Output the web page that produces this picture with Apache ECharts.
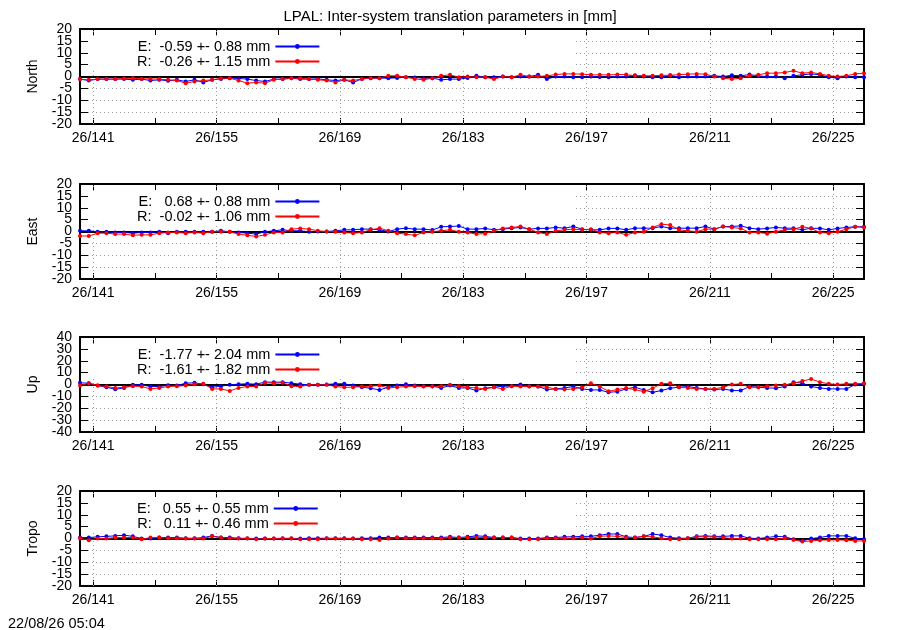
<!DOCTYPE html>
<html>
<head>
<meta charset="utf-8">
<title>LPAL inter-system translation parameters</title>
<script src="https://cdn.jsdelivr.net/npm/echarts@6.0.0/dist/echarts.min.js"></script>
<style>
  html, body { margin: 0; padding: 0; background: #fff; }
  #chart { width: 900px; height: 630px; }
</style>
</head>
<body>
<div id="chart"></div>
<script>
// day of year 2026, one solution per day (plotted at noon)
var doy = [139,140,141,142,143,144,145,146,147,148,149,150,151,152,153,154,155,156,157,158,
  159,160,161,162,163,164,165,166,167,168,169,170,171,172,173,174,175,176,177,178,
  179,180,181,182,183,184,185,186,187,188,189,190,191,192,193,194,195,196,197,198,
  199,200,201,202,203,204,205,206,207,208,209,210,211,212,213,214,215,216,217,218,
  219,220,221,222,223,224,225,226,227,228];
var majorTicks = [141, 155, 169, 183, 197, 211, 225];
var minorTicks = [148, 162, 176, 190, 204, 218];
var yTicks20 = [-20, -15, -10, -5, 0, 5, 10, 15, 20];
var yTicks40 = [-40, -30, -20, -10, 0, 10, 20, 30, 40];

var panelNames = ["North", "East", "Up", "Tropo"];
var legendE = ["E:  -0.59 +- 0.88 mm", "E:   0.68 +- 0.88 mm", "E:  -1.77 +- 2.04 mm", "E:   0.55 +- 0.55 mm"];
var legendR = ["R:  -0.26 +- 1.15 mm", "R:  -0.02 +- 1.06 mm", "R:  -1.61 +- 1.82 mm", "R:   0.11 +- 0.46 mm"];

// mm
var northE = [-1.1,-1.7,-1.1,-1.1,-1.1,-1.1,-1.4,-1.1,-1.7,-1.4,-1.8,-1.4,-2.1,-1.4,-2.5,-1.4,-1.0,-0.7,-0.8,-1.1,
  -1.7,-2.1,-1.1,-1.1,-0.7,-1.1,-1.1,-1.0,-1.4,-1.7,-1.4,
  -2.5,-1.0,-0.7,-0.7,-0.7,-0.6,-0.3,-0.4,-0.7,-0.7,-1.4,-1.1,-1.1,-0.6,0.3,-0.3,-0.3,0,-0.3,0,
  0,0.7,-1.1,0,0,-0.3,-0.3,0,-0.2,
  -0.3,0,0,0.5,0,-0.3,-0.3,0.5,-0.3,0,0,0,0.3,0,0.5,0.3,0.8,0.2,0,0,
  -0.7,0.3,0.7,1.1,0.7,-0.3,-0.7,0,-0.3,-0.3];
var northR = [-1.1,-1.4,-1.1,-1.1,-1.1,-0.8,-0.7,-1.0,-1.0,-1.1,-1.4,-1.7,-2.8,-2.1,-1.7,-1.4,-0.8,-0.7,-1.7,-2.8,
  -2.5,-2.8,-1.4,-1.1,-0.7,-0.7,-1.1,-1.4,-1.7,-2.5,-1.4,
  -1.7,-1.0,-0.7,-0.7,0.3,0.3,-0.3,-1.0,-1.4,-0.7,0.3,0.7,-0.3,0,-0.3,-0.3,-1.1,0,-0.3,0.7,
  0,0,0.3,0.8,1.1,1.1,1.0,0.7,0.7,
  0.7,0.8,0.8,0.3,0.3,0.3,0.5,0.5,0.8,1.0,1.1,1.0,0,-0.7,-1.1,-0.7,0.3,0.7,1.4,1.4,
  1.7,2.4,1.4,1.7,1.1,0.3,0,0.3,1.1,1.4];
var eastE = [0.3,0.3,-0.1,-0.1,-0.4,-0.4,-0.7,-0.4,-0.4,-0.1,-0.7,-0.1,-0.1,-0.1,-0.1,-0.1,0.3,-0.1,-0.4,-0.7,
  -1.1,-0.1,0.3,0.7,0.3,0.3,-0.1,0,0,0.3,0.7,0.7,1.0,1.0,0.7,0,1.0,1.4,1.0,1.0,0.6,
  2.0,2.1,2.3,1.0,1.0,1.3,0.7,1.0,1.4,1.7,1.0,1.3,1.3,1.7,1.4,2.1,1.0,0.7,0.7,1.3,
  1.3,0.7,1.4,1.4,1.4,2.1,1.4,1.4,1.4,1.4,2.1,1.0,2.1,2.1,2.4,1.4,1.0,1.3,1.7,1.4,
  1.4,0.7,1.4,1.3,0.7,1.3,1.7,2.0,2.0];
var eastR = [-1.9,-1.9,-0.7,-0.7,-1.1,-1.1,-1.6,-1.4,-1.4,-0.7,-0.4,-0.4,-0.7,-0.4,-0.7,-0.1,-0.1,-0.1,-1.1,-1.6,
  -2.1,-1.4,-0.4,-0.4,1.0,1.3,1.0,0.3,0,-0.1,-0.4,-0.7,-0.4,0.7,1.4,0.3,-0.7,-1.1,-1.6,-0.4,-0.1,
  0.3,0.7,-0.1,-0.4,-1.1,-0.9,0.3,1.3,1.7,2.1,1.0,-0.4,-1.1,0.3,0.7,1.0,0.7,1.0,-0.4,-0.7,
  -0.4,-1.4,-0.4,-0.1,1.7,3.1,2.7,0.7,0.3,-0.1,1.0,1.0,2.1,1.7,1.3,-0.4,-0.4,-0.9,-0.1,0.7,
  1.0,2.0,1.3,-0.4,-0.7,-0.1,1.0,2.0,1.7];
var upE = [1.4,1.1,-0.9,-2.3,-4.0,-2.9,-0.3,-0.3,-1.7,-1.7,-0.6,-0.9,1.1,1.4,0.3,-2.3,-1.4,-0.3,0.3,0.6,
  0.3,2.0,2.0,2.0,1.1,0.3,-0.3,-0.3,0,0.6,0.6,-0.9,-2.3,-3.1,-4.6,-2.3,-0.9,0.3,-0.9,-1.4,-1.4,
  -2.9,-0.9,-2.9,-2.9,-5.1,-3.1,-2.3,-1.4,-1.4,0,-1.4,-1.7,-4.3,-3.7,-2.9,-1.7,-3.7,-4.6,-4.6,-6.6,
  -6.0,-3.7,-2.3,-4.6,-6.6,-5.1,-3.1,-2.3,-1.7,-2.9,-3.7,-4.3,-3.7,-5.1,-5.1,-1.7,-2.3,-2.9,-3.1,-1.7,
  2.0,1.1,-1.7,-2.9,-3.7,-3.7,-3.7,0,0.6];
var upR = [-0.9,1.1,-0.9,-1.7,-2.9,-2.3,-1.4,-1.7,-3.7,-2.9,-1.7,-1.4,-0.9,0.3,0.6,-3.7,-3.7,-5.4,-2.9,-1.7,
  -1.7,1.4,1.1,1.4,-1.4,-1.7,-0.3,-0.3,-0.3,-1.7,-2.3,-2.3,-1.7,-1.4,-0.9,-2.9,-2.3,-1.7,-1.4,-1.7,-1.7,
  -1.4,-0.3,-1.4,-2.3,-2.9,-3.7,-2.3,-3.7,-1.4,-1.7,-1.7,-1.7,-2.3,-3.7,-4.3,-3.7,-2.3,1.1,-1.7,-5.7,
  -4.3,-2.9,-4.3,-6.0,-3.1,0.6,1.1,-2.3,-2.9,-3.7,-3.7,-3.7,-2.3,0,0.6,-2.3,-2.3,-1.4,-0.9,-0.3,
  1.1,2.9,4.6,2.0,0.6,0,0.6,0.6,1.1];
var tropoE = [0.4,0.4,0.7,0.9,1.1,1.4,0.9,0,0,0.4,0.4,0.4,0.1,0.1,0.4,1.1,0.4,0.4,0.1,0,
  0,0,0,0,0,0,0.1,0.1,0.1,0.1,0.1,0,0.1,0.1,0.4,0.4,0.4,0.4,0.4,0.4,
  0.4,0.4,0.7,0.4,0.7,
  1.1,0.9,0.4,0.4,0.4,0,0,0,0.4,0.4,0.7,0.7,0.9,0.9,1.4,1.9,1.9,0.7,0.4,0.9,
  1.9,1.4,0.4,0.1,0.1,0.9,1.1,0.9,0.9,1.1,1.1,0.1,0,0.4,0.9,0.7,-0.3,-1.0,0,0.4,
  1.1,1.1,1.1,0.1,-0.3];
var tropoR = [0.1,-0.7,0,0,0.4,0.4,0.4,-0.3,0.4,0.4,0.1,0.1,0,0,0,0.9,0.4,0.1,0,0.1,
  -0.3,0,0,0.1,0.1,-0.3,-0.3,-0.3,0,0,0,0,-0.3,-0.3,-0.6,0,0.4,0.1,0.1,0.1,
  0.1,0,0.4,0.4,0.4,
  0.4,0.4,0.4,0.4,0.4,-0.3,-0.3,-0.3,0.1,0.1,0.1,0.1,0.4,0,0.9,1.1,0.9,0.4,0.4,0.9,
  0.7,0.1,-0.3,-0.3,0.1,0.7,0.7,0.7,0.4,0,0,-0.3,-0.3,-0.3,-0.3,0.1,-0.6,-1.3,-1.0,-0.7,
  -0.6,-0.6,-0.7,-1.0,-1.0];

var seriesE = [northE, eastE, upE, tropoE];
var seriesR = [northR, eastR, upR, tropoR];
var yTicks = [yTicks20, yTicks20, yTicks40, yTicks20];
var panelTop = [29, 184, 337, 491];
var panelH = 95;

var FONT = "'Liberation Sans', Arial, Helvetica, sans-serif";
var grey = { color: "#a0a0a0", width: 1, type: [1, 3] };

function pairs(vals) {
  return vals.map(function(v, i) { return [doy[i] + 0.5, v]; });
}

var grids = [], xAxes = [], yAxes = [], series = [], legends = [], graphics = [];

panelNames.forEach(function(name, p) {
  grids.push({ left: 80, right: 36, top: panelTop[p], height: panelH });

  var xBase = { gridIndex: p, type: "value", min: 139.5, max: 228.5 };
  // bottom: frame and labelled ticks
  xAxes.push(Object.assign({}, xBase, {
    position: "bottom",
    axisLine: { show: true, onZero: false, lineStyle: { color: "#000", width: 2 } },
    axisTick: { show: true, inside: true, length: 6, customValues: majorTicks, lineStyle: { color: "#000" } },
    axisLabel: { show: true, customValues: majorTicks, margin: 7, color: "#000", fontSize: 14, fontFamily: FONT,
      formatter: function(v) { return "26/" + v; } },
    splitLine: { show: false }
  }));
  // top: frame and ticks
  xAxes.push(Object.assign({}, xBase, {
    position: "top",
    axisLine: { show: true, onZero: false, lineStyle: { color: "#000", width: 2 } },
    axisTick: { show: true, inside: true, length: 6, customValues: majorTicks.concat(minorTicks), lineStyle: { color: "#000" } },
    axisLabel: { show: false },
    splitLine: { show: false }
  }));
  // bottom: in-between ticks
  xAxes.push(Object.assign({}, xBase, {
    position: "bottom",
    axisLine: { show: false, onZero: false },
    axisTick: { show: true, inside: true, length: 6, customValues: minorTicks, lineStyle: { color: "#000" } },
    axisLabel: { show: false },
    splitLine: { show: false }
  }));

  var yt = yTicks[p];
  var yStep = yt[1] - yt[0];
  var yBase = { gridIndex: p, type: "value", min: yt[0], max: yt[yt.length - 1], interval: yStep };
  var labelStyle = { show: true, interval: 0, margin: 8, color: "#000", fontSize: 14, fontFamily: FONT,
    showMinLabel: true, showMaxLabel: true, hideOverlap: false };
  // left: frame, ticks, grid and every other label
  yAxes.push(Object.assign({}, yBase, {
    position: "left",
    name: name, nameLocation: "middle", nameGap: 40, nameRotate: 90,
    nameTextStyle: { color: "#000", fontSize: 14, fontFamily: FONT },
    axisLine: { show: true, onZero: false, lineStyle: { color: "#000", width: 2 } },
    axisTick: { show: true, inside: true, length: 8, lineStyle: { color: "#000" } },
    axisLabel: Object.assign({}, labelStyle, { customValues: yt.filter(function(v, i) { return i % 2 === 0; }) }),
    splitLine: { show: true, lineStyle: grey }
  }));
  // right: frame and ticks
  yAxes.push(Object.assign({}, yBase, {
    position: "right",
    axisLine: { show: true, onZero: false, lineStyle: { color: "#000", width: 2 } },
    axisTick: { show: true, inside: true, length: 8, lineStyle: { color: "#000" } },
    axisLabel: { show: false },
    splitLine: { show: false }
  }));
  // left again: the remaining labels (kept apart so none get dropped as overlapping)
  yAxes.push(Object.assign({}, yBase, {
    position: "left", offset: 0,
    axisLine: { show: false, onZero: false },
    axisTick: { show: false },
    axisLabel: Object.assign({}, labelStyle, { customValues: yt.filter(function(v, i) { return i % 2 === 1; }) }),
    splitLine: { show: false }
  }));

  series.push({
    name: legendE[p], type: "line", xAxisIndex: p * 3, yAxisIndex: p * 3,
    data: pairs(seriesE[p]), symbol: "circle", symbolSize: 4,
    itemStyle: { color: "#0000ff" }, lineStyle: { color: "#0000ff", width: 1 },
    // zero axis
    markLine: { silent: true, z: 1.5, symbol: ["none", "none"], label: { show: false },
      lineStyle: { color: "#000", width: 2, type: "solid" }, data: [{ yAxis: 0 }] }
  });
  series.push({
    name: legendR[p], type: "line", xAxisIndex: p * 3, yAxisIndex: p * 3,
    data: pairs(seriesR[p]), symbol: "circle", symbolSize: 4,
    itemStyle: { color: "#ff0000" }, lineStyle: { color: "#ff0000", width: 1 },
    // vertical grid at the labelled ticks
    markLine: { silent: true, z: 0.5, symbol: ["none", "none"], label: { show: false },
      lineStyle: grey, data: majorTicks.map(function(v) { return { xAxis: v }; }) }
  });

  legends.push({
    data: [legendE[p], legendR[p]], orient: "vertical", align: "right",
    left: 137, top: panelTop[p] + 10, padding: 0, itemGap: 0,
    itemWidth: 44, itemHeight: 6, selectedMode: false,
    textStyle: { color: "#000", fontSize: 14.5, fontFamily: FONT, lineHeight: 14.5 }
  });

  // opaque key box hides the grid behind it
  graphics.push({ type: "rect", left: 88, top: panelTop[p] + 7, z: 1,
    shape: { width: 485, height: 35 }, style: { fill: "#fff" } });
});

graphics.push({ type: "text", left: 8, top: 616,
  style: { text: "22/08/26 05:04", fill: "#000", font: "14.5px " + FONT } });

var chart = echarts.init(document.getElementById("chart"));
chart.setOption({
  animation: false,
  backgroundColor: "#fff",
  title: { text: "LPAL: Inter-system translation parameters in [mm]", left: "center", top: 4,
    textStyle: { color: "#000", fontSize: 15, fontWeight: "normal", fontFamily: FONT } },
  grid: grids,
  xAxis: xAxes,
  yAxis: yAxes,
  legend: legends,
  graphic: graphics,
  series: series
});
</script>
</body>
</html>
